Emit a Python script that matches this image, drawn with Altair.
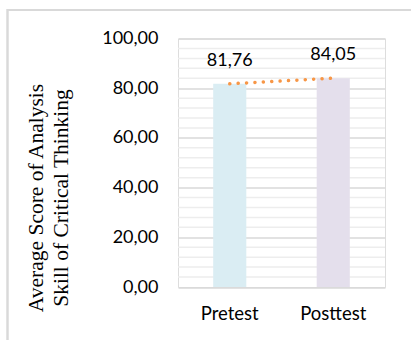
import altair as alt
import pandas as pd

# Average scores per test
categories = ["Pretest", "Posttest"]
scores = [81.76, 84.05]
score_labels = ["81,76", "84,05"]
bar_colors = ["#DAEDF3", "#E4DFEC"]

major_ticks = [0, 20, 40, 60, 80, 100]
minor_ticks = [v for v in range(0, 101, 4) if v % 20 != 0]

df = pd.DataFrame({"test": categories, "score": scores, "label": score_labels})
minor_df = pd.DataFrame({"v": minor_ticks})

label_font = "Lato"
title_font = "Liberation Serif"

x_enc = alt.X(
    "test:N",
    sort=categories,
    scale=alt.Scale(paddingInner=0.68, paddingOuter=0.34),
    axis=alt.Axis(
        title=None, labelAngle=0, domain=False, ticks=False,
        labelFont=label_font, labelFontSize=18.5, labelColor="#000000",
        labelPadding=17,
    ),
)
y_scale = alt.Scale(domain=[0, 100], nice=False)

# Light minor gridlines
minor = alt.Chart(minor_df).mark_rule(color="#EDEDED", strokeWidth=1.5).encode(
    y=alt.Y("v:Q", scale=y_scale),
    x=alt.value(0), x2=alt.value(207),
)

bars = alt.Chart(df).mark_bar().encode(
    x=x_enc,
    y=alt.Y(
        "score:Q",
        scale=y_scale,
        axis=alt.Axis(
            values=major_ticks, format=".2f", labelExpr="replace(datum.label, '.', ',')",
            grid=True, gridColor="#D9D9D9", gridWidth=1.5,
            domain=False, ticks=False, labelPadding=20,
            labelFont=label_font, labelFontSize=18, labelColor="#000000",
            title=["Average Score of Analysis", "Skill of Critical Thinking"],
            titleFont=title_font, titleFontSize=21.5, titleFontWeight="normal",
            titleColor="#000000", titleAngle=270, titleX=-131, titleY=159,
            titleAlign="center", titleBaseline="bottom", titleLineHeight=25,
        ),
    ),
    color=alt.Color("test:N", scale=alt.Scale(domain=categories, range=bar_colors), legend=None),
)

labels = alt.Chart(df).mark_text(
    font=label_font, fontSize=18, color="#000000", baseline="bottom", dy=-14
).encode(x=alt.X("test:N", sort=categories), y=alt.Y("score:Q", scale=y_scale), text="label:N")

trend = alt.Chart(df).mark_line(
    color="#F79646", strokeWidth=3.5, strokeDash=[0.1, 8.3], strokeCap="round"
).encode(x=alt.X("test:N", sort=categories), y=alt.Y("score:Q", scale=y_scale))

frame = alt.Chart(df).mark_rect(fill=None, stroke="#D9D9D9", strokeWidth=2).encode(
    x=alt.value(-170.5), x2=alt.value(260), y=alt.value(-28.5), y2=alt.value(330),
)

chart = (
    alt.layer(frame, minor, bars, trend, labels)
    .properties(
        width=207, height=248.5,
        autosize=alt.AutoSizeParams(type="none"),
        padding={"left": 178, "top": 38.5, "right": 26, "bottom": 53},
    )
    .configure_view(stroke=None)
    .configure(background="#FFFFFF")
)

chart.save("out.html", embed_options={"renderer": "svg", "actions": False})
